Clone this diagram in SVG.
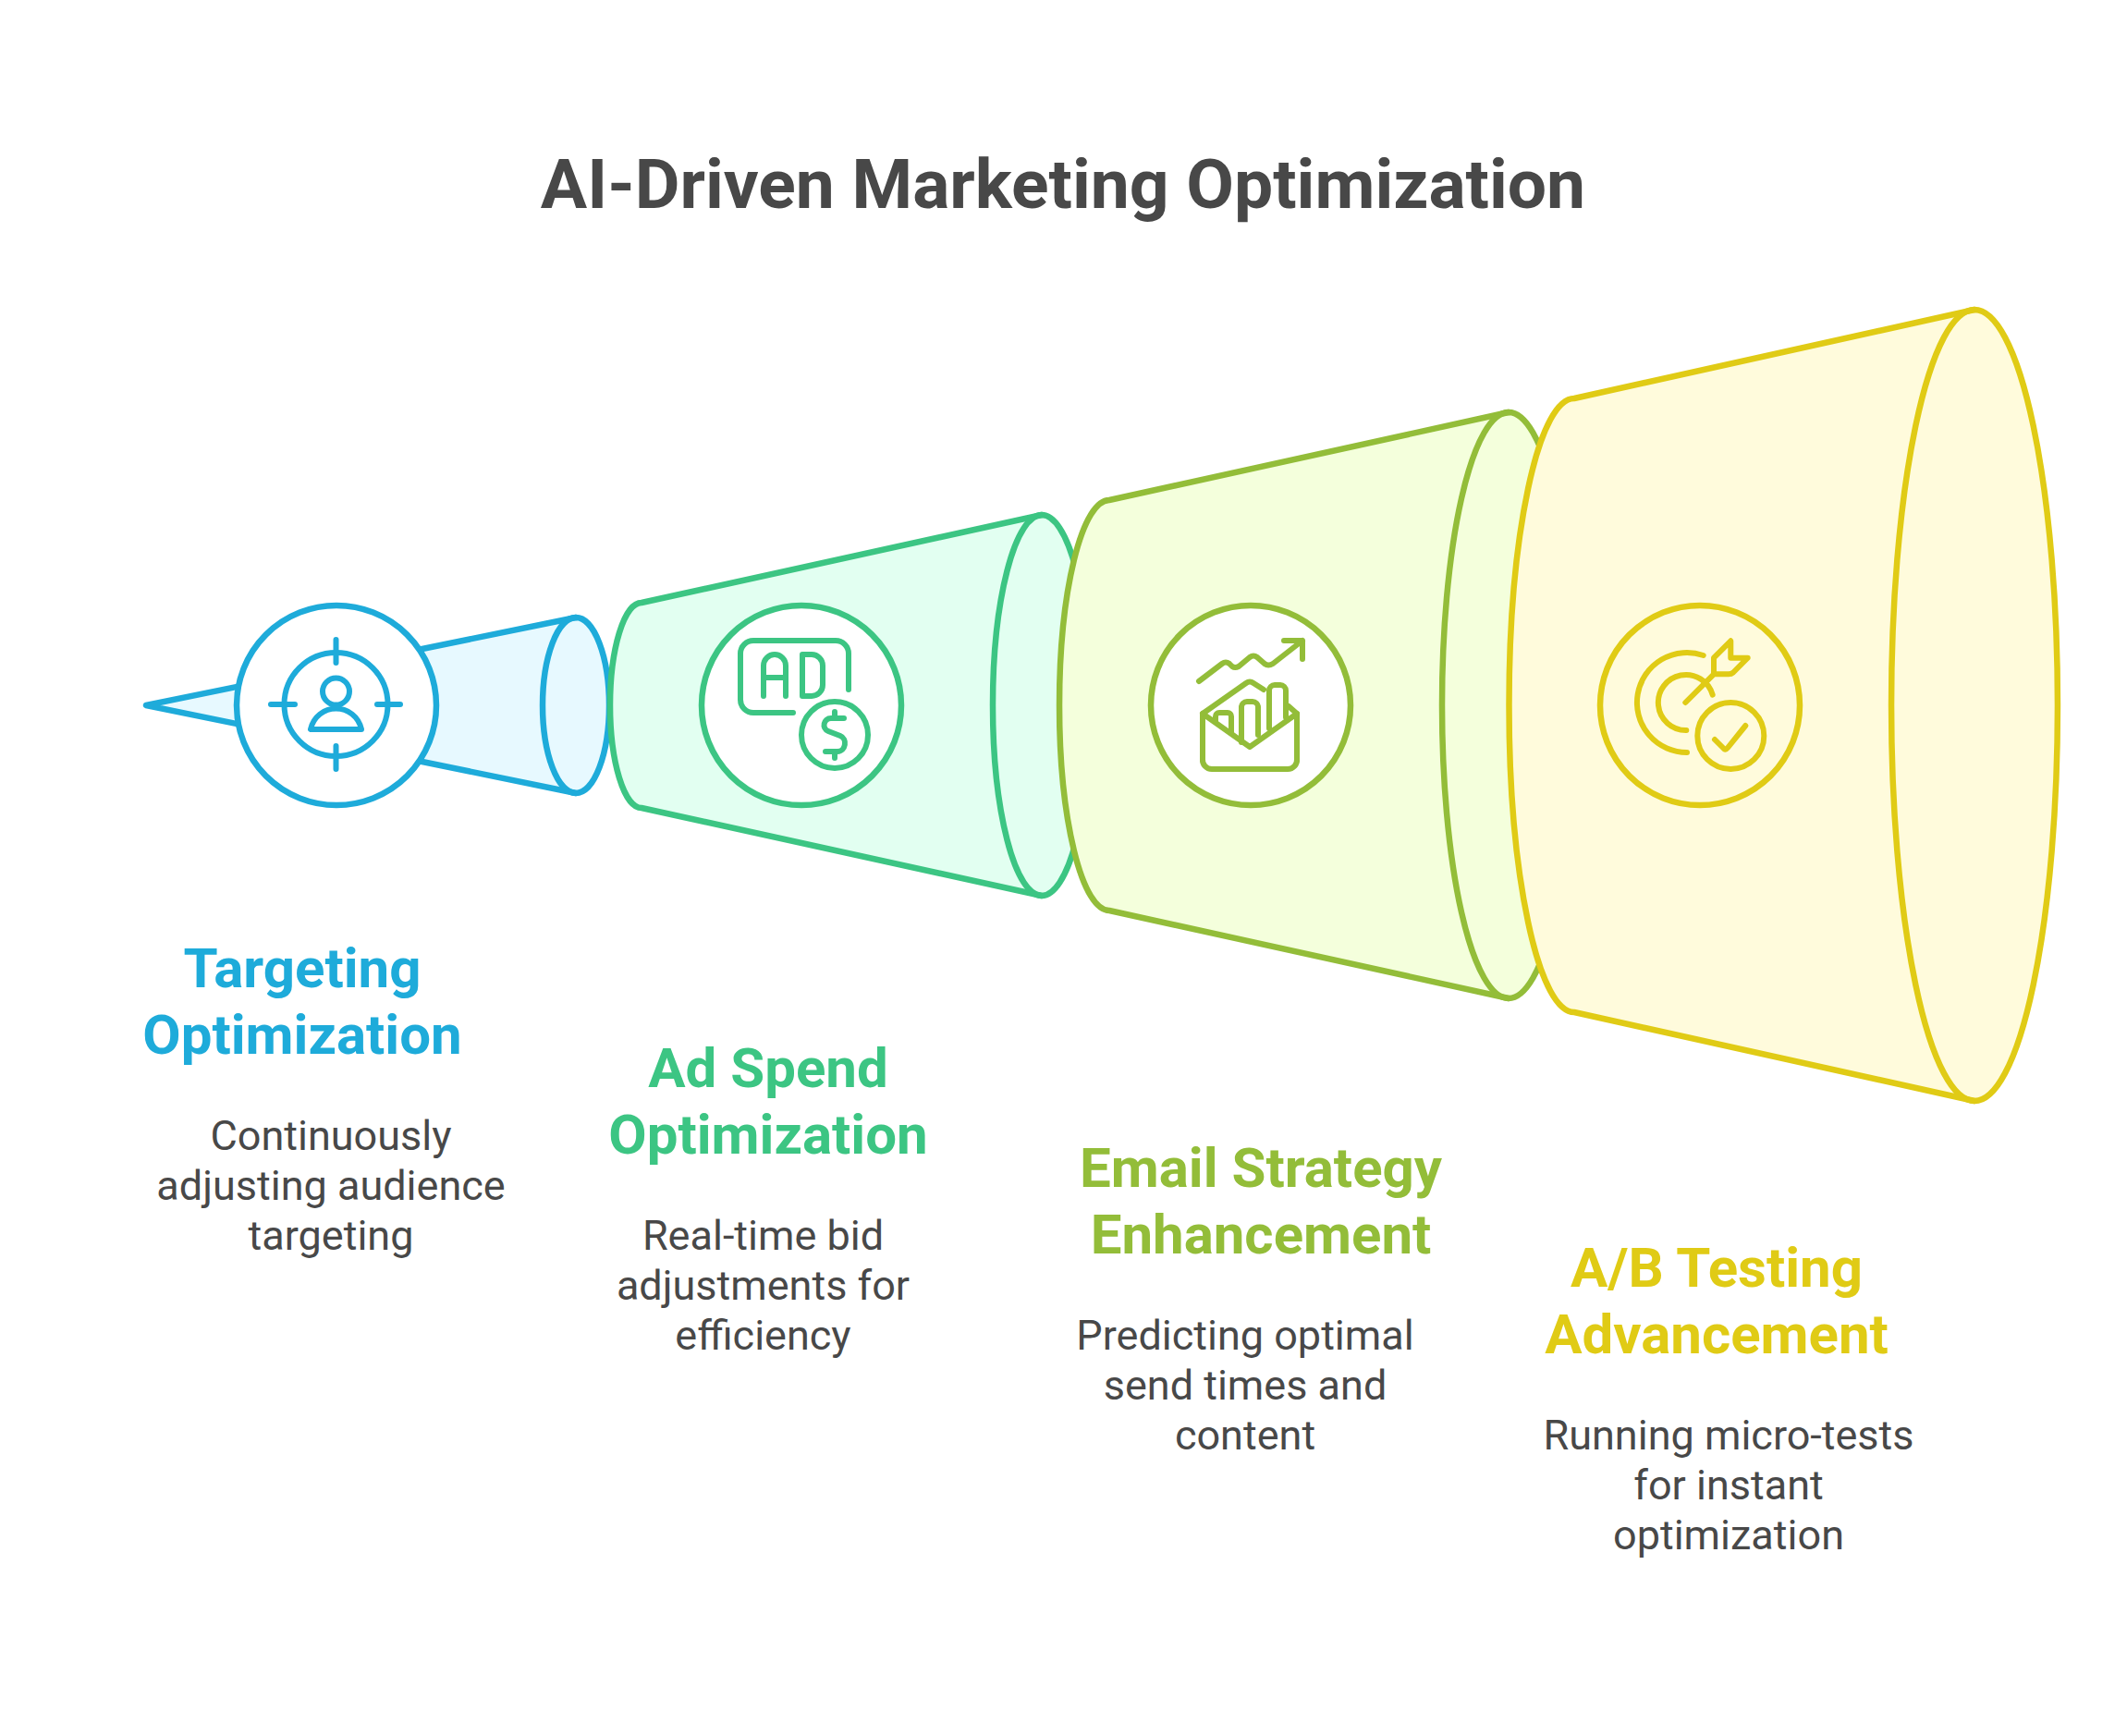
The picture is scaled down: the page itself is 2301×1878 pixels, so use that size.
<svg xmlns="http://www.w3.org/2000/svg" width="2301" height="1878" viewBox="0 0 2301 1878">
<style>
text{font-family:Roboto,"Liberation Sans",sans-serif;text-anchor:middle}
.t{font-size:75px;font-weight:700;fill:#484848}
.h{font-size:60px;font-weight:700}
.d{font-size:45px;font-weight:400;fill:#484848}
.s{stroke-width:6.5;stroke-linejoin:round;stroke-linecap:round}
.i{fill:none;stroke-width:6;stroke-linejoin:round;stroke-linecap:round}
.blue .s,.blue .i{stroke:#1eabda}.blue .f{fill:#e7f9ff}.blue .h{fill:#1eabda}
.green .s,.green .i{stroke:#3cc583}.green .f{fill:#e2fff1}.green .h{fill:#3cc583}
.olive .s,.olive .i{stroke:#93bd39}.olive .f{fill:#f4ffdc}.olive .h{fill:#93bd39}
.yellow .s,.yellow .i{stroke:#e0cb15}.yellow .f{fill:#fffbdc}.yellow .h{fill:#e0cb15}
.c{fill:#fff}
.n{fill:none}
</style>
<rect width="2301" height="1878" fill="#fff"/>
<text class="t" x="1150" y="225">AI-Driven Marketing Optimization</text>

<g id="node-targeting" class="blue">
  <path class="s f" d="M158 763L623 668A36 95 0 0 1 623 858Z"/>
  <path class="s n" d="M623 668A36 95 0 0 0 623 858"/>
  <circle class="s c" cx="364" cy="763" r="108"/>
  <g class="i">
    <circle cx="363.5" cy="762" r="56"/>
    <path d="M363.5 692V717M363.5 807V832M293 762H319M408 762H433"/>
    <circle cx="363.5" cy="748" r="14.5"/>
    <path d="M336 789H391C388 775 376 766.500 363.500 766.500C351 766.500 339 775 336 789Z"/>
  </g>
  <text class="h" x="327" y="1068">Targeting</text>
  <text class="h" x="327" y="1140">Optimization</text>
  <text class="d" x="358" y="1243.500">Continuously</text>
  <text class="d" x="358" y="1297.500">adjusting audience</text>
  <text class="d" x="358" y="1351.500">targeting</text>
</g>

<g id="node-adspend" class="green">
  <path class="s f" d="M694 652L1127 557A53 206 0 0 1 1127 969L694 874A34 111 0 0 1 694 652Z"/>
  <path class="s n" d="M1127 557A53 206 0 0 0 1127 969"/>
  <circle class="s c" cx="867" cy="763" r="108"/>
  <g class="i">
    <path d="M918 746V707A14 14 0 0 0 904 693H815A14 14 0 0 0 801 707V757A14 14 0 0 0 815 771H858"/>
    <path d="M826 753V720A12 12 0 0 1 850 720V753M826 733H850"/>
    <path d="M868 708H878A12 12 0 0 1 890 720V741A12 12 0 0 1 878 753H868Z"/>
    <circle cx="903" cy="795" r="36"/>
    <path d="M903 770V777M903 813V820M913 777H899C891 777 888.500 788 896 791L909 796C917 799 915 813 906 813H893"/>
  </g>
  <text class="h" x="831" y="1176">Ad Spend</text>
  <text class="h" x="831" y="1248">Optimization</text>
  <text class="d" x="825.500" y="1351.500">Real-time bid</text>
  <text class="d" x="825.500" y="1405.500">adjustments for</text>
  <text class="d" x="825.500" y="1459.500">efficiency</text>
</g>

<g id="node-email" class="olive">
  <path class="s f" d="M1200 541L1632 446A72 317 0 0 1 1632 1080L1200 985A54 222 0 0 1 1200 541Z"/>
  <path class="s n" d="M1632 446A72 317 0 0 0 1632 1080"/>
  <circle class="s c" cx="1353" cy="763" r="108"/>
  <g class="i">
    <path d="M1297 737L1322 718Q1326 715 1330 718L1333 721Q1336 723 1340 721L1352 711Q1356 708 1360 711L1368 718Q1372 721 1377 718L1409 693M1389 693H1409V713"/>
    <path d="M1301 772V821A10 10 0 0 0 1311 832H1393A10 10 0 0 0 1403 821V772L1352 808Z"/>
    <path d="M1301 772L1348 739Q1352 736 1356 739L1367 746M1394 764L1403 772"/>
    <path d="M1373 788V747A6 6 0 0 1 1379 741H1385A6 6 0 0 1 1391 747V776"/>
    <path d="M1343 803V765A6 6 0 0 1 1349 759H1355A6 6 0 0 1 1361 765V795"/>
    <path d="M1315 780V775A4 4 0 0 1 1319 771H1328A4 4 0 0 1 1332 775V793"/>
  </g>
  <text class="h" x="1364" y="1284">Email Strategy</text>
  <text class="h" x="1364" y="1356">Enhancement</text>
  <text class="d" x="1347" y="1459.500">Predicting optimal</text>
  <text class="d" x="1347" y="1513.500">send times and</text>
  <text class="d" x="1347" y="1567.500">content</text>
</g>

<g id="node-abtesting" class="yellow">
  <path class="s f" d="M1703 431L2136 335A90 428 0 0 1 2136 1191L1703 1095A70.500 332 0 0 1 1703 431Z"/>
  <path class="s n" d="M2136 335A90 428 0 0 0 2136 1191"/>
  <circle class="s n" cx="1839" cy="763" r="108"/>
  <g class="i">
    <path d="M1842.700 709A54 54 0 1 0 1825 814"/>
    <path d="M1852.700 751.700A30 30 0 1 0 1824.300 790"/>
    <path d="M1823.300 760L1854 729.300M1854 729.300V711.700L1872.300 693.300V711.700H1890.700L1875 727.500Q1873 729.300 1870 729.300Z"/>
    <circle cx="1872.300" cy="796" r="36"/>
    <path d="M1855 800L1865 810Q1867 811.500 1869 809L1888.300 785"/>
  </g>
  <text class="h" x="1857" y="1392">A/B Testing</text>
  <text class="h" x="1857" y="1464">Advancement</text>
  <text class="d" x="1870" y="1567.500">Running micro-tests</text>
  <text class="d" x="1870" y="1621.500">for instant</text>
  <text class="d" x="1870" y="1675.500">optimization</text>
</g>
</svg>
